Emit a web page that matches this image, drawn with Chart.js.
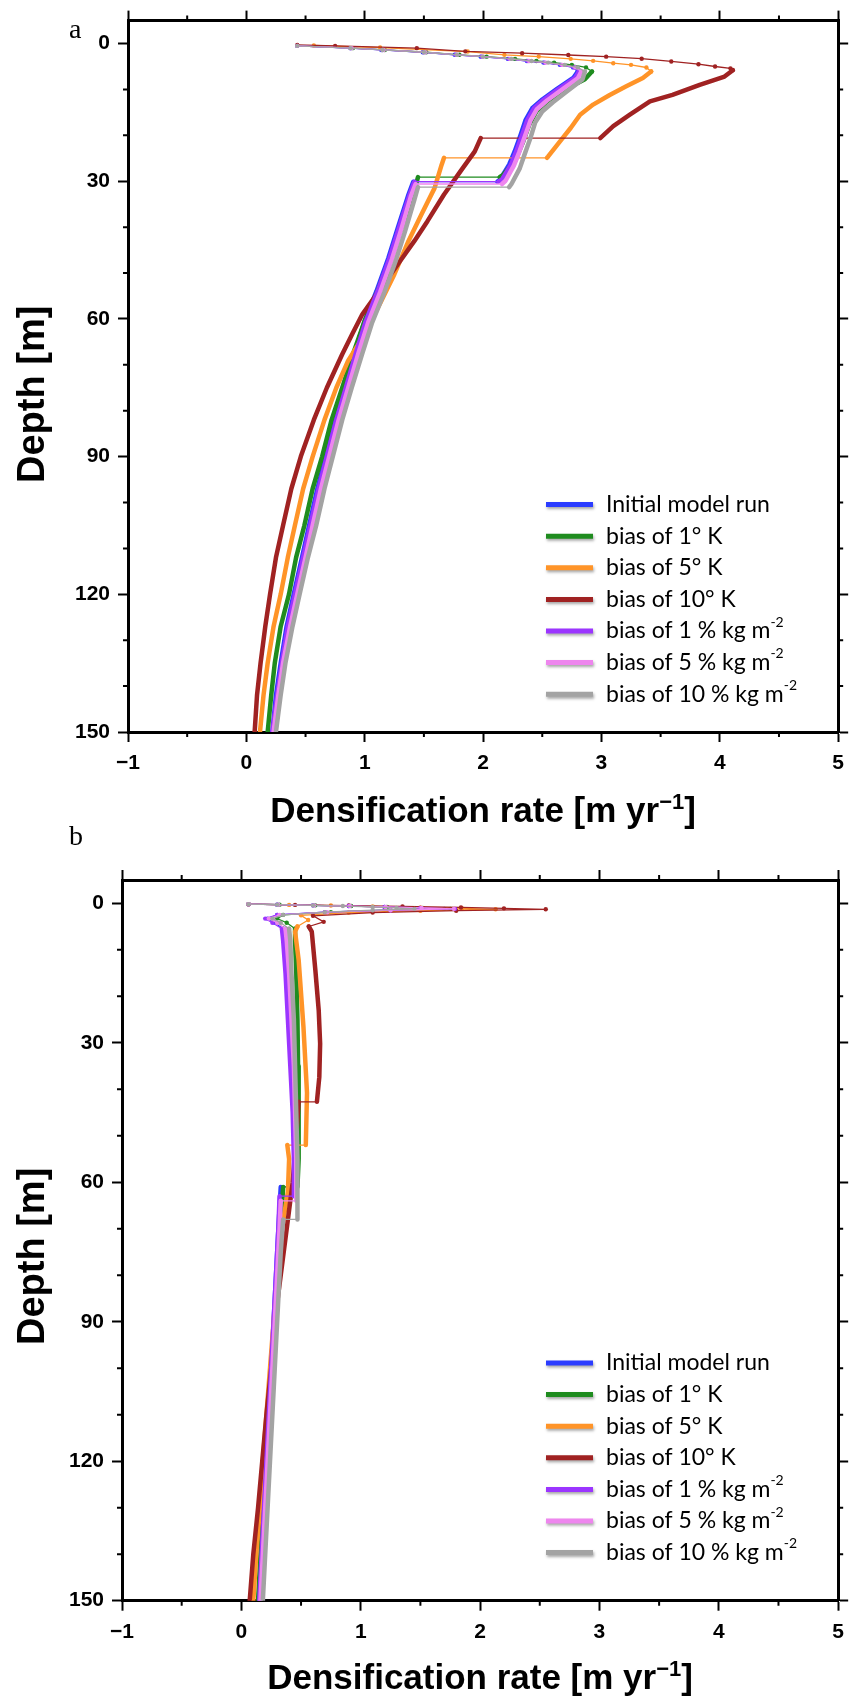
<!DOCTYPE html>
<html><head><meta charset="utf-8">
<script src="https://cdn.jsdelivr.net/npm/chart.js@4.4.1/dist/chart.umd.min.js"></script>
<style>
html,body{margin:0;padding:0;background:#fff;}
body{width:853px;height:1702px;position:relative;overflow:hidden;}
canvas{position:absolute;left:0;}
#ca{top:0;}
#cb{top:800px;}
</style></head>
<body>
<canvas id="ca" width="853" height="861"></canvas>
<canvas id="cb" width="853" height="902"></canvas>
<script>
// ---------- ticks ----------
const xTickValues = [-1, 0, 1, 2, 3, 4, 5];
const xMinorTicks = [-0.5, 0.5, 1.5, 2.5, 3.5, 4.5];
const yTickValues = [0, 30, 60, 90, 120, 150];
const yMinorTicks = [10, 20, 40, 50, 70, 80, 100, 110, 130, 140];

// ---------- series ----------
const seriesNames = ['Initial model run', 'bias of 1° K', 'bias of 5° K', 'bias of 10° K',
  'bias of 1 % kg m^-2', 'bias of 5 % kg m^-2', 'bias of 10 % kg m^-2'];
const seriesColors = ['#2b3cff', '#1f8c1f', '#ff9428', '#a02222', '#9b35ff', '#ee86ee', '#a3a3a3'];

// ---------- panel a : depth [m] and densification rate [m/yr] ----------
const aInitialDepth = [0.5,1.0,1.4,1.9,2.45,2.85,3.35,3.8,4.15,4.65,5.2,6.1,7.4,9.85,12.2,14.1,16.6,19.9,23.5,26.4,29.6,30.1,30.1,32.9,40.1,46.7,53.9,60.4,67,75,82,90,97,105,112,120,127,135,142,150];
const aInitialRate  = [0.43,0.88,1.14,1.49,1.76,1.98,2.21,2.37,2.51,2.65,2.76,2.8,2.765,2.625,2.5,2.415,2.36,2.317,2.267,2.22,2.144,2.12,1.41,1.37,1.28,1.2,1.1,1.0,0.92,0.83,0.75,0.67,0.60,0.53,0.47,0.40,0.34,0.29,0.25,0.22];

const aT1Depth = [0.5,1.0,1.4,1.9,2.45,2.85,3.35,3.8,4.15,4.65,5.2,6.1,7.8,10.2,12.6,14.8,17.7,21.3,25.6,28.6,29.1,29.1,32.9,40.1,46.7,53.9,60.4,67,75,82,90,97,105,112,120,127,135,142,150];
const aT1Rate  = [0.43,0.9,1.17,1.52,1.8,2.03,2.27,2.45,2.6,2.75,2.87,2.92,2.86,2.68,2.54,2.45,2.39,2.34,2.27,2.17,2.14,1.45,1.41,1.31,1.22,1.11,1.0,0.91,0.81,0.72,0.64,0.56,0.49,0.42,0.36,0.29,0.24,0.21,0.18];

const aT5Depth = [0.43,0.87,1.74,2.46,2.83,3.33,3.77,4.28,4.64,5.22,6.09,7.5,9.3,11.2,13.3,15.5,18.4,21.3,24.6,24.9,24.9,26.4,31.5,37.2,43,50.3,56.1,63.3,69.1,75,82,90,97,105,112,120,127,135,142,150];
const aT5Rate  = [0.57,1.13,1.87,2.18,2.47,2.74,2.93,3.1,3.25,3.38,3.42,3.35,3.21,3.07,2.93,2.82,2.74,2.65,2.55,2.54,1.67,1.65,1.59,1.48,1.37,1.25,1.14,1.0,0.86,0.76,0.66,0.56,0.48,0.41,0.35,0.29,0.23,0.18,0.145,0.115];

const aT10Depth = [0.3,0.5,1.0,1.7,2.1,2.5,2.85,3.3,3.9,4.5,5.0,5.4,5.8,7.2,9.0,11.2,12.6,15.5,18,20.6,20.6,23.5,27.8,32.9,38.7,43,47,53.9,59,63,67.7,75,82,90,97,105,112,120,127,135,142,150];
const aT10Rate  = [0.43,0.75,1.44,1.85,2.33,2.72,3.04,3.34,3.59,3.82,3.96,4.09,4.11,4.04,3.83,3.60,3.41,3.24,3.1,2.99,1.98,1.93,1.81,1.67,1.53,1.42,1.31,1.12,0.98,0.90,0.81,0.68,0.57,0.46,0.38,0.31,0.25,0.20,0.16,0.12,0.09,0.07];

const aA1Depth = [0.5,1.0,1.4,1.9,2.45,2.85,3.35,3.8,4.15,4.65,5.2,6.1,7.4,9.85,12.2,14.1,16.6,19.9,23.5,26.4,29.6,30.1,30.1,32.9,40.1,46.7,53.9,60.4,67,75,82,90,97,105,112,120,127,135,142,150];
const aA1Rate  = [0.43,0.88,1.15,1.5,1.77,1.99,2.22,2.38,2.52,2.66,2.77,2.81,2.78,2.64,2.515,2.43,2.375,2.33,2.28,2.235,2.16,2.13,1.42,1.38,1.29,1.21,1.11,1.01,0.93,0.84,0.76,0.68,0.61,0.54,0.48,0.41,0.35,0.30,0.26,0.22];

const aA5Depth = [0.5,1.0,1.4,1.9,2.45,2.85,3.35,3.8,4.15,4.65,5.2,6.1,7.6,10.0,12.4,14.3,16.8,20.1,23.7,26.6,29.9,30.6,30.6,33.3,40.4,47,54.2,60.7,67.2,75,82,90,97,105,112,120,127,135,142,150];
const aA5Rate  = [0.43,0.89,1.16,1.51,1.78,2.0,2.23,2.39,2.53,2.67,2.78,2.83,2.8,2.67,2.54,2.455,2.4,2.355,2.305,2.26,2.19,2.16,1.43,1.39,1.31,1.23,1.13,1.03,0.95,0.86,0.78,0.70,0.63,0.56,0.50,0.43,0.37,0.31,0.27,0.23];

const aA10Depth = [0.5,1.0,1.4,1.9,2.45,2.85,3.35,3.8,4.15,4.65,5.2,6.1,7.8,10.4,12.8,14.8,17.2,20.6,24.2,27.2,30.6,31.3,31.3,34,41,47.5,54.6,61,67.5,75,82,90,97,105,112,120,127,135,142,150];
const aA10Rate  = [0.43,0.88,1.15,1.5,1.78,2.0,2.24,2.41,2.55,2.69,2.8,2.86,2.84,2.71,2.59,2.5,2.44,2.4,2.35,2.31,2.24,2.22,1.45,1.42,1.34,1.26,1.16,1.06,0.98,0.89,0.81,0.73,0.66,0.59,0.52,0.45,0.39,0.33,0.29,0.25];

// ---------- panel b ----------
const bInitialDepth = [0.2,0.3,0.45,0.6,0.8,1.0,1.2,1.5,1.9,2.5,3.3,4.2,5.5,8,15,25,35,45,55,61,61,70,80,90,100,110,120,130,140,150];
const bInitialRate  = [0.06,0.3,0.6,0.9,1.2,1.5,1.7,1.2,0.7,0.3,0.22,0.28,0.35,0.36,0.38,0.40,0.42,0.44,0.45,0.45,0.33,0.31,0.29,0.27,0.25,0.23,0.21,0.19,0.17,0.15];

const bT1Depth = [0.2,0.3,0.45,0.6,0.8,1.0,1.2,1.5,1.9,2.5,3.3,4.2,5.5,8,15,25,35,45,55,61,61,70,80,90,100,110,120,130,140,150];
const bT1Rate  = [0.06,0.32,0.62,0.92,1.22,1.52,1.75,1.25,0.75,0.35,0.3,0.38,0.45,0.45,0.46,0.47,0.475,0.48,0.48,0.47,0.35,0.33,0.30,0.28,0.255,0.23,0.21,0.185,0.16,0.14];

const bT5Depth = [0.2,0.35,0.5,0.7,0.9,1.1,1.3,1.6,2.0,2.6,3.6,5.0,6.1,12.2,26.5,40.8,52,52,55,62,70,80,90,100,110,120,130,140,150];
const bT5Rate  = [0.06,0.4,0.75,1.1,1.5,1.85,2.13,1.5,0.9,0.5,0.56,0.47,0.45,0.48,0.52,0.55,0.54,0.385,0.40,0.39,0.34,0.30,0.27,0.24,0.21,0.18,0.155,0.125,0.10];

const bT10Depth = [0.2,0.35,0.5,0.7,0.9,1.1,1.3,1.6,2.0,2.7,4.0,5.0,6.1,14.4,23,30.2,37.4,42.7,42.7,50,60,66,80,90,100,110,120,130,140,150];
const bT10Rate  = [0.06,0.45,0.9,1.35,1.84,2.2,2.55,1.8,1.1,0.6,0.69,0.565,0.59,0.62,0.648,0.66,0.653,0.633,0.48,0.46,0.43,0.40,0.33,0.28,0.25,0.21,0.175,0.14,0.10,0.07];

const bA1Depth = [0.2,0.3,0.45,0.6,0.8,1.0,1.2,1.5,1.9,2.5,3.3,4.2,5.5,8,15,25,35,45,55,63,63,70,80,90,100,110,120,130,140,150];
const bA1Rate  = [0.06,0.3,0.6,0.9,1.2,1.5,1.79,1.25,0.7,0.3,0.2,0.26,0.34,0.35,0.37,0.39,0.41,0.43,0.44,0.44,0.32,0.31,0.29,0.27,0.25,0.23,0.21,0.19,0.17,0.15];

const bA5Depth = [0.2,0.3,0.45,0.6,0.8,1.0,1.2,1.5,1.9,2.5,3.3,4.2,5.5,8,15,25,35,45,55,64,64,70,80,90,100,110,120,130,140,150];
const bA5Rate  = [0.06,0.31,0.61,0.91,1.21,1.51,1.78,1.25,0.72,0.32,0.23,0.3,0.37,0.38,0.40,0.42,0.44,0.45,0.46,0.46,0.33,0.32,0.30,0.28,0.26,0.24,0.22,0.20,0.18,0.16];

const bA10Depth = [0.2,0.3,0.45,0.6,0.8,1.0,1.2,1.5,1.9,2.5,3.3,4.2,5.5,8,15,25,35,45,55,68,68,75,90,100,110,120,130,140,150];
const bA10Rate  = [0.06,0.3,0.6,0.85,1.1,1.3,1.45,1.1,0.7,0.35,0.26,0.33,0.40,0.41,0.42,0.44,0.45,0.46,0.47,0.47,0.35,0.33,0.30,0.28,0.26,0.24,0.22,0.20,0.18];

// number of leading points drawn as thin dotted line (near-surface samples)
const aSurfacePoints = [12, 12, 11, 13, 12, 12, 12];
const bSurfacePoints = [13, 13, 12, 12, 13, 13, 13];

const panelAData = [[aInitialDepth,aInitialRate],[aT1Depth,aT1Rate],[aT5Depth,aT5Rate],[aT10Depth,aT10Rate],[aA1Depth,aA1Rate],[aA5Depth,aA5Rate],[aA10Depth,aA10Rate]];
const panelBData = [[bInitialDepth,bInitialRate],[bT1Depth,bT1Rate],[bT5Depth,bT5Rate],[bT10Depth,bT10Rate],[bA1Depth,bA1Rate],[bA5Depth,bA5Rate],[bA10Depth,bA10Rate]];

// ---------- helpers ----------
function fmtTick(v){ return v < 0 ? '\u2212' + Math.abs(v) : String(v); }

function drawRich(ctx, parts, x, y, mainFont, supFont, rise, align){
  ctx.save();
  let w = 0;
  parts.forEach(p => { ctx.font = p.sup ? supFont : mainFont; w += ctx.measureText(p.t).width; });
  let cx = align === 'center' ? x - w/2 : x;
  ctx.textAlign = 'left';
  parts.forEach(p => {
    ctx.font = p.sup ? supFont : mainFont;
    ctx.fillText(p.t, cx, p.sup ? y - rise : y);
    cx += ctx.measureText(p.t).width;
  });
  ctx.restore();
}
function labelParts(s){
  const i = s.indexOf('^');
  if (i < 0) return [{t:s}];
  return [{t:s.slice(0,i)},{t:s.slice(i+1), sup:true}];
}

function decoPlugin(cfg){
  return {
    id: 'deco',
    afterDraw(chart){
      const ctx = chart.ctx, a = chart.chartArea;
      const xs = chart.scales.x, ys = chart.scales.y;
      ctx.save();
      ctx.strokeStyle = '#000'; ctx.lineWidth = 2;
      ctx.beginPath();
      xMinorTicks.forEach(v => {
        const px = xs.getPixelForValue(v);
        ctx.moveTo(px, a.bottom); ctx.lineTo(px, a.bottom + 5);
        ctx.moveTo(px, a.top); ctx.lineTo(px, a.top - 5);
      });
      yMinorTicks.forEach(v => {
        const py = ys.getPixelForValue(v);
        ctx.moveTo(a.left, py); ctx.lineTo(a.left - 5, py);
        ctx.moveTo(a.right, py); ctx.lineTo(a.right + 5, py);
      });
      ctx.stroke();
      ctx.fillStyle = '#000';
      // x title
      drawRich(ctx, [{t:'Densification rate [m yr'},{t:'\u22121',sup:true},{t:']'}],
        (a.left + a.right)/2, a.bottom + cfg.xTitleOffset,
        'bold 35px "Liberation Sans", Arial, sans-serif', 'bold 22px "Liberation Sans", Arial, sans-serif', 13, 'center');
      // y title
      ctx.save();
      ctx.translate(cfg.yTitleX, (a.top + a.bottom)/2 + cfg.yTitleDy);
      ctx.rotate(-Math.PI/2);
      ctx.font = 'bold 38px "Liberation Sans", Arial, sans-serif';
      ctx.textAlign = 'center'; ctx.textBaseline = 'middle';
      ctx.fillText('Depth [m]', 0, 0);
      ctx.restore();
      // panel letter
      ctx.font = '28px "Liberation Serif", "Times New Roman", serif';
      ctx.textAlign = 'left'; ctx.textBaseline = 'alphabetic';
      ctx.fillText(cfg.letter, cfg.letterX, cfg.letterY);
      // legend
      chart.data.datasets.forEach((ds, i) => {
        const y = a.top + cfg.legendTop + i * cfg.legendStep;
        ctx.save();
        ctx.shadowColor = 'rgba(0,0,0,0.35)'; ctx.shadowBlur = 3; ctx.shadowOffsetX = 1; ctx.shadowOffsetY = 2;
        ctx.strokeStyle = ds.borderColor; ctx.lineWidth = 5; ctx.lineCap = 'butt';
        ctx.beginPath(); ctx.moveTo(cfg.legendX, y); ctx.lineTo(cfg.legendX + 47, y); ctx.stroke();
        ctx.restore();
        ctx.textBaseline = 'middle';
        drawRich(ctx, labelParts(ds.label), cfg.legendX + 60, y,
          '23px Lato, "Open Sans", sans-serif', '14px Lato, "Open Sans", sans-serif', 9, 'left');
      });
      ctx.restore();
    }
  };
}

function makeChart(canvasId, data, surfCounts, box, cfg){
  const datasets = data.map((pair, i) => {
    const depth = pair[0], rate = pair[1], ns = surfCounts[i];
    return {
      label: seriesNames[i],
      data: depth.map((d, k) => ({x: rate[k], y: d})),
      borderColor: seriesColors[i],
      backgroundColor: seriesColors[i],
      pointBackgroundColor: seriesColors[i],
      pointBorderWidth: 0,
      pointRadius: c => (c.dataIndex < ns ? 2.2 : 0),
      borderWidth: 4.5,
      borderCapStyle: 'round',
      borderJoinStyle: 'round',
      tension: 0,
      order: 7 - i,
      segment: {
        borderWidth: c => (c.p1DataIndex < ns || depth[c.p0DataIndex] === depth[c.p1DataIndex]) ? 1.3 : 4.5
      }
    };
  });
  const commonGrid = {drawOnChartArea: false, drawTicks: true, tickLength: 10, tickWidth: 2, tickColor: '#000'};
  const commonBorder = {display: true, color: '#000', width: 3};
  const xTicksSet = s => { s.ticks = xTickValues.map(v => ({value: v})); };
  const yTicksSet = s => { s.ticks = yTickValues.map(v => ({value: v})); };
  return new Chart(document.getElementById(canvasId), {
    type: 'line',
    data: {datasets},
    options: {
      responsive: false, animation: false, events: [],
      layout: {padding: 0},
      plugins: {legend: {display: false}, tooltip: {enabled: false}},
      scales: {
        x: {type: 'linear', position: 'bottom', min: -1, max: 5,
            afterBuildTicks: xTicksSet,
            ticks: {font: {family: '"Liberation Sans", Arial, sans-serif', size: 21, weight: 'bold'}, color: '#000', padding: 9, maxRotation: 0, autoSkip: false, callback: fmtTick},
            grid: commonGrid, border: commonBorder,
            afterFit: s => { s.height = box.bottom; }},
        x2: {type: 'linear', position: 'top', min: -1, max: 5,
            afterBuildTicks: xTicksSet,
            ticks: {display: false}, grid: commonGrid, border: commonBorder,
            afterFit: s => { s.height = box.top; }},
        y: {type: 'linear', position: 'left', reverse: true, min: -5, max: 150,
            afterBuildTicks: yTicksSet,
            ticks: {font: {family: '"Liberation Sans", Arial, sans-serif', size: 21, weight: 'bold'}, color: '#000', padding: 8, callback: fmtTick},
            grid: commonGrid, border: commonBorder,
            afterFit: s => { s.width = box.left; }},
        y2: {type: 'linear', position: 'right', reverse: true, min: -5, max: 150,
            afterBuildTicks: yTicksSet,
            ticks: {display: false}, grid: commonGrid, border: commonBorder,
            afterFit: s => { s.width = box.right; }}
      }
    },
    plugins: [decoPlugin(cfg)]
  });
}

makeChart('ca', panelAData, aSurfacePoints, {left: 128, right: 10, top: 19, bottom: 129},
  {xTitleOffset: 90, yTitleX: 34, yTitleDy: 18, letter: 'a', letterX: 69, letterY: 38,
   legendTop: 484, legendStep: 31.6, legendX: 546});
makeChart('cb', panelBData, bSurfacePoints, {left: 122, right: 11, top: 80, bottom: 101.3},
  {xTitleOffset: 88, yTitleX: 34, yTitleDy: 16, letter: 'b', letterX: 69, letterY: 45,
   legendTop: 483, legendStep: 31.6, legendX: 546});
</script>
</body></html>
